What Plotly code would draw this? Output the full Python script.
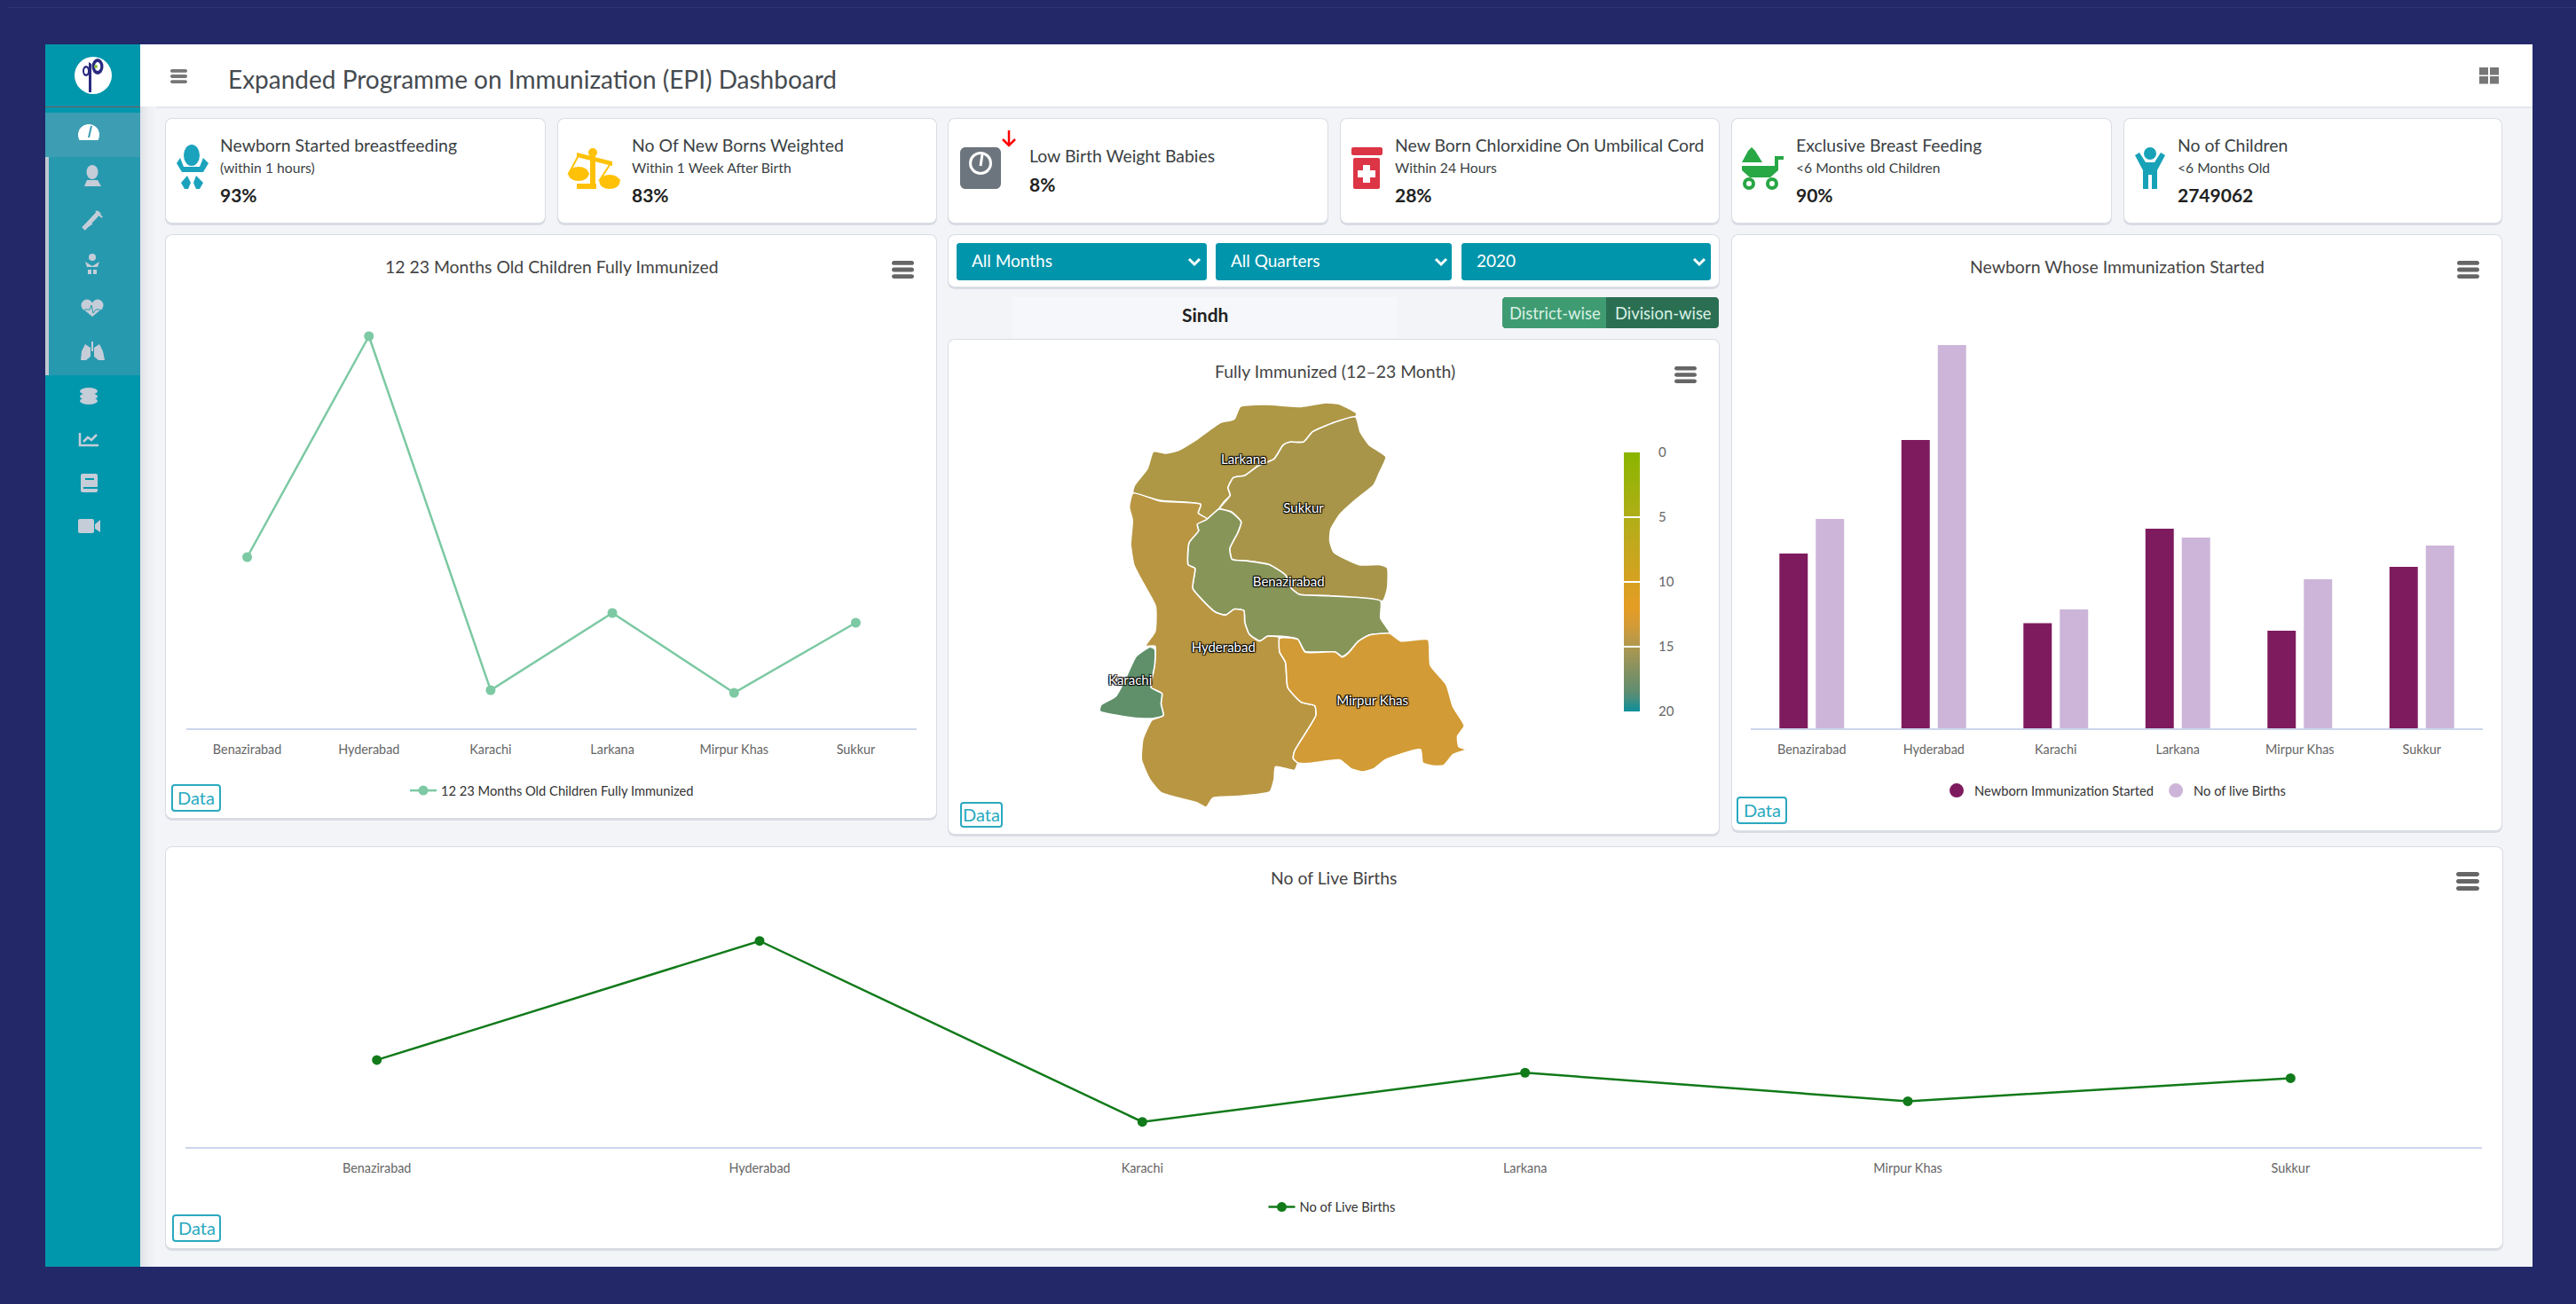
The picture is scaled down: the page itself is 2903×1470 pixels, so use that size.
import plotly.graph_objects as go

W, H = 2903, 1470
FONT = "Lato"
NAVY = "#222868"

districts = ["Benazirabad", "Hyderabad", "Karachi", "Larkana", "Mirpur Khas", "Sukkur"]
fully_immunized = [19.3, 44.2, 4.3, 13.0, 4.0, 11.9]
newborn_started = [98500, 162500, 59200, 112500, 55000, 91000]
live_births = [118000, 216000, 67000, 107500, 84000, 103000]

kpi_titles = ["Newborn Started breastfeeding", "No Of New Borns Weighted", "Low Birth Weight Babies",
              "New Born Chlorxidine On Umbilical Cord", "Exclusive Breast Feeding", "No of Children"]
kpi_subs = ["(within 1 hours)", "Within 1 Week After Birth", "", "Within 24 Hours", "<6 Months old Children", "<6 Months Old"]
kpi_values = ["93%", "83%", "8%", "28%", "90%", "2749062"]
filters = ["All Months", "All Quarters", "2020"]

# Map outlines, in map units
map_names = ["Larkana", "Sukkur", "Benazirabad", "Hyderabad", "Karachi", "Mirpur Khas"]
map_colors = ["#AE9745", "#A89549", "#889559", "#B99642", "#5F906A", "#D29B35"]
map_label_x = [513, 645, 612, 468, 262, 797]
map_label_y = [267, 432, 682, 905, 1014, 1085]
larkana = [(505,85),(560,78),(640,85),(695,72),(725,77),(762,108),(760,118),(710,140),(665,170),(645,205),(615,205),(600,215),(580,262),(545,285),(515,318),(490,325),(478,360),(483,385),(470,405),(458,430),(432,465),(412,445),(418,415),(330,403),(268,375),(272,350),(300,295),(313,237),(340,243),(365,235),(410,195),(460,140),(492,127),(505,85)]
sukkur = [(760,120),(770,170),(790,215),(827,255),(812,310),(800,350),(760,400),(725,450),(705,500),(703,540),(712,578),(768,620),(815,620),(830,630),(830,700),(820,742),(700,725),(635,720),(618,700),(605,655),(570,620),(520,607),(487,602),(482,565),(500,510),(507,475),(485,440),(460,430),(483,385),(478,360),(490,325),(515,318),(545,285),(580,262),(600,215),(615,205),(645,205),(665,170),(710,140),(760,120)]
benazirabad = [(458,432),(485,442),(507,475),(500,510),(482,565),(487,602),(520,607),(570,620),(605,655),(618,700),(635,720),(700,725),(815,742),(815,800),(835,850),(790,857),(765,880),(745,915),(730,930),(715,915),(648,913),(632,872),(598,862),(565,862),(548,878),(525,855),(515,815),(513,775),(492,770),(473,790),(450,780),(425,745),(400,700),(405,632),(390,620),(392,545),(413,505),(410,483),(432,465),(458,432)]
hyderabad = [(268,378),(330,405),(418,416),(412,445),(432,465),(410,483),(413,505),(392,545),(390,620),(405,632),(400,700),(425,745),(450,780),(473,790),(492,770),(513,775),(515,815),(525,855),(548,878),(565,862),(590,865),(592,915),(605,950),(610,1035),(640,1085),(670,1097),(672,1130),(625,1250),(622,1275),(632,1290),(625,1315),(583,1303),(580,1345),(570,1388),(500,1403),(445,1408),(430,1440),(410,1425),(330,1390),(305,1345),(287,1280),(290,1210),(310,1145),(335,1130),(330,1090),(332,1055),(308,1035),(316,960),(317,895),(296,895),(317,845),(318,760),(290,680),(270,620),(263,550),(267,470),(260,425),(268,378)]
karachi = [(305,898),(316,905),(316,960),(308,1035),(332,1055),(330,1090),(335,1130),(310,1140),(270,1138),(195,1115),(197,1095),(230,1065),(250,1010),(275,930),(305,898)]
mirpur_khas = [(592,868),(632,872),(648,915),(715,915),(730,932),(745,917),(765,880),(790,858),(835,852),(860,878),(920,873),(925,960),(960,1025),(975,1100),(1000,1165),(985,1200),(988,1235),(1005,1245),(975,1262),(955,1298),(930,1300),(908,1290),(903,1245),(825,1280),(800,1310),(775,1320),(750,1310),(725,1280),(655,1292),(632,1290),(622,1275),(625,1250),(672,1130),(670,1097),(640,1085),(610,1035),(605,950),(592,915),(592,868)]
map_shapes = [larkana, sukkur, benazirabad, hyderabad, karachi, mirpur_khas]

scale_stops = [[0, "#8AB500"], [0.25, "#B0AE17"], [0.4, "#C8A61E"], [0.6, "#E49C25"], [0.66, "#D69B35"],
               [0.75, "#AE9850"], [0.85, "#7F9063"], [0.93, "#5B8D72"], [1, "#0A8F9E"]]
scale_ticks = [0, 5, 10, 15, 20]
scale_steps = list(range(0, 81))


def px(x):
    return x / W


def py(y):
    return 1 - y / H


shapes, annotations = [], []


def rect(x0, y0, x1, y1, color, opacity=1):
    shapes.append(dict(type="rect", xref="paper", yref="paper", x0=px(x0), x1=px(x1), y0=py(y0), y1=py(y1),
                       fillcolor=color, line_width=0, opacity=opacity, layer="below"))


def circle(cx, cy, r, color, ry=None):
    ry = ry or r
    shapes.append(dict(type="circle", xref="paper", yref="paper", x0=px(cx - r), x1=px(cx + r), y0=py(cy - ry), y1=py(cy + ry),
                       fillcolor=color, line_width=0, layer="below"))


def path(points, color, close=True, width=0):
    d = "M " + " L ".join(f"{px(a):.6f},{py(b):.6f}" for a, b in points) + (" Z" if close else "")
    shapes.append(dict(type="path", xref="paper", yref="paper", path=d, layer="below",
                       fillcolor=color if close else "rgba(0,0,0,0)",
                       line=dict(color=color, width=width)))


def round_rect(x0, y0, x1, y1, r, fill, line=None, lw=0):
    k = 0.55 * r
    f = lambda a, b: f"{px(a):.6f},{py(b):.6f}"
    d = (f"M {f(x0+r,y0)} L {f(x1-r,y0)} C {f(x1-r+k,y0)} {f(x1,y0+r-k)} {f(x1,y0+r)} L {f(x1,y1-r)} "
         f"C {f(x1,y1-r+k)} {f(x1-r+k,y1)} {f(x1-r,y1)} L {f(x0+r,y1)} C {f(x0+r-k,y1)} {f(x0,y1-r+k)} {f(x0,y1-r)} "
         f"L {f(x0,y0+r)} C {f(x0,y0+r-k)} {f(x0+r-k,y0)} {f(x0+r,y0)} Z")
    shapes.append(dict(type="path", xref="paper", yref="paper", path=d, fillcolor=fill, layer="below",
                       line=dict(color=line or fill, width=lw)))


def text(x, y, s, size, color="#333", anchor="left", bold=False):
    annotations.append(dict(x=px(x), y=py(y - 1), xref="paper", yref="paper", text=f"<b>{s}</b>" if bold else s,
                            showarrow=False, xanchor=anchor, yanchor="middle", xshift=-3 if anchor == "left" else 0,
                            font=dict(family=FONT, size=size, color=color)))


def card(x0, y0, x1, y1):
    round_rect(x0 - 1, y0 - 1, x1 + 1, y1 + 3, 8, "#D9DCE3")
    round_rect(x0, y0, x1, y1, 7, "#FFFFFF")


def burger(x0, y0, x1, y1, color="#666666"):
    h = (y1 - y0) / 4.2
    for i in range(3):
        top = y0 + i * (y1 - y0 - h) / 2
        round_rect(x0, top, x1, top + h, h / 2, color)


def data_btn(x0, y0, x1, y1):
    round_rect(x0, y0, x1, y1, 3, "#FFFFFF", "#2AA9BF", 2)
    text((x0 + x1) / 2, (y0 + y1) / 2, "Data", 20, "#2AA9BF", "center")


# Page frame
rect(0, 0, W, H, NAVY)
rect(8, 8, W, 9, "#2E3372")
rect(51, 50, 2854, 1428, "#F3F4F8")
rect(158, 50, 2854, 120, "#FFFFFF")
rect(158, 120, 2854, 122, "#E3E6EC")
for i, c in enumerate(["#E2E4E9", "#E6E8EC", "#EAECF0", "#EDEFF3", "#F0F1F5", "#F2F3F7"]):
    rect(158 + i * 3, 120, 161 + i * 3, 1428, c)
rect(51, 50, 158, 1428, "#0096AC")
rect(51, 120, 158, 121, "#7A5A55")
rect(51, 127, 158, 177, "#3D9DB3")
rect(51, 177, 158, 423, "#2799AF")
rect(51, 177, 55, 423, "#C0C8D2")

# Logo
circle(105, 85, 21, "#FFFFFF")
path([(100, 70), (100, 104), (103, 104), (103, 72)], "#2A2A80")
circle(110, 75, 6.5, "#2A2A80", 9)
circle(110, 75, 3.2, "#FFFFFF", 5)
circle(97, 80, 4, "#2A2A80", 6)
circle(97, 80, 2, "#FFFFFF", 3.5)
circle(108, 75, 2, "#8CC63F")

# Sidebar icons
ic = "#C5CDD8"
circle(100, 152, 12, "#FFFFFF", 12)
rect(86, 158, 114, 166, "#3D9DB3")
path([(100, 155), (103, 142)], "#3D9DB3", close=False, width=2)
circle(104, 194, 6.5, ic, 8)
path([(95, 210), (98, 203), (110, 203), (114, 210)], ic)
path([(94, 258), (112, 239)], ic, close=False, width=5)
path([(95, 258), (104, 252)], ic, close=False, width=1.5)
path([(108, 238), (115, 245)], ic, close=False, width=2)
circle(104, 290, 4, ic)
path([(96, 295), (104, 300), (112, 295), (110, 301), (98, 301)], ic)
path([(99, 304), (103, 304), (103, 309), (99, 309)], ic)
path([(105, 304), (109, 304), (109, 309), (105, 309)], ic)
circle(98, 344, 6.5, ic)
circle(110, 344, 6.5, ic)
path([(92, 347), (116, 347), (104, 357)], ic)
path([(95, 349), (101, 349), (103, 344), (105, 353), (108, 349), (113, 349)], "#2799AF", close=False, width=1)
path([(102, 392), (96, 388), (92, 396), (91, 406), (97, 406), (102, 402)], ic)
path([(106, 392), (112, 388), (116, 396), (118, 406), (111, 406), (106, 402)], ic)
path([(104, 385), (104, 396)], ic, close=False, width=2)
circle(100, 441, 10, ic, 4)
circle(100, 447, 10, ic, 4)
circle(100, 452, 10, ic, 4)
path([(90, 488), (90, 502), (111, 502)], ic, close=False, width=2.5)
path([(94, 498), (99, 493), (103, 496), (109, 490)], ic, close=False, width=2.5)
round_rect(91, 534, 110, 555, 2, ic)
rect(96, 539, 106, 541, "#0096AC")
rect(94, 549, 110, 551, "#0096AC")
round_rect(88, 585, 106, 601, 2, ic)
path([(107, 591), (113, 586), (113, 600), (107, 596)], ic)

# Header
burger(192, 78, 211, 94, "#777777")
text(258, 90, "Expanded Programme on Immunization (EPI) Dashboard", 28, "#454B50")
for gx, gy in [(2794, 76), (2806, 76), (2794, 86), (2806, 86)]:
    rect(gx, gy, gx + 10, gy + 8.5, "#777777")

# KPI cards
kpi_boxes = [(187, 614), (629, 1055), (1069, 1496), (1511, 1937), (1952, 2379), (2394, 2819)]
kpi_text_x = [249, 713, 1161, 1573, 2025, 2455]
for (a, b), tx, t, s, v in zip(kpi_boxes, kpi_text_x, kpi_titles, kpi_subs, kpi_values):
    card(a, 134, b, 251)
    if s:
        text(tx, 164, t, 19.4, "#3A3F44")
        text(tx, 190, s, 15.7, "#3A3F44")
        text(tx, 221, v, 21, "#222222", bold=True)
    else:
        text(tx, 177, t, 19.4, "#3A3F44")
        text(tx, 208, v, 21, "#222222", bold=True)

# KPI icons
teal = "#1BA3BD"
circle(216, 175, 9, teal, 12)
path([(199, 184), (203, 178), (207, 188), (225, 188), (229, 178), (235, 184), (229, 194), (205, 194)], teal)
path([(211, 198), (215, 206), (212, 213), (208, 213), (204, 206)], teal)
path([(221, 198), (229, 206), (225, 213), (221, 213), (218, 206)], teal)
yel = "#FFC107"
path([(650, 172), (690, 182), (690, 187), (650, 177)], yel)
circle(668, 172, 5, yel)
rect(665, 176, 671, 213, yel)
rect(650, 207, 672, 213, yel)
path([(652, 175), (641, 196), (664, 196)], yel, close=False, width=2)
path([(687, 186), (676, 203), (699, 203)], yel, close=False, width=2)
circle(652, 196, 11.5, yel, 8)
circle(687, 205, 11.5, yel, 8)
round_rect(1082, 166, 1128, 213, 6, "#6C757D")
circle(1105, 184, 13, "#FFFFFF")
circle(1105, 184, 10, "#6C757D")
path([(1105, 187), (1107, 174)], "#FFFFFF", close=False, width=3)
path([(1137, 147), (1137, 163)], "#FF0000", close=False, width=2.5)
path([(1130, 157), (1137, 164), (1144, 157)], "#FF0000", close=False, width=2.5)
med = "#DC3545"
round_rect(1523, 166, 1558, 175, 2, med)
round_rect(1525, 178, 1555, 213, 2, med)
rect(1530, 192, 1550, 200, "#FFFFFF")
rect(1536, 186, 1544, 206, "#FFFFFF")
gr = "#28A745"
path([(1974, 166), (1978, 170), (1986, 183), (1963, 183), (1970, 170)], gr)
path([(1963, 187), (2000, 187), (2000, 176), (2010, 176), (2010, 180), (2004, 180), (2004, 192), (1995, 200), (1972, 200), (1963, 192)], gr)
circle(1971, 207, 7, gr)
circle(1971, 207, 3, "#FFFFFF")
circle(1997, 207, 7, gr)
circle(1997, 207, 3, "#FFFFFF")
ch = "#17A2B8"
circle(2423, 173, 7, ch)
path([(2406, 175), (2411, 172), (2418, 183), (2428, 183), (2435, 172), (2440, 175), (2431, 192), (2431, 213), (2425, 213), (2425, 197), (2421, 197), (2421, 213), (2415, 213), (2415, 192)], ch)

# Panels
card(187, 265, 1055, 922)
card(1069, 265, 1937, 323)
card(1069, 383, 1937, 940)
card(1952, 265, 2819, 936)
card(187, 955, 2820, 1407)
rect(1141, 335, 1575, 381, "#F6F7FA")

# Filters
for (a, b), s, chev in zip([(1078, 1360), (1370, 1636), (1647, 1928)], filters, [1346, 1624, 1915]):
    round_rect(a, 274, b, 316, 3, "#0095AB")
    text(a + 18, 295, s, 19, "#FFFFFF")
    path([(chev - 6, 292), (chev, 298), (chev + 6, 292)], "#FFFFFF", close=False, width=3)

text(1358, 356, "Sindh", 21, "#222222", "center", True)
round_rect(1693, 335, 1937, 370, 4, "#2B6F53")
round_rect(1693, 335, 1810, 370, 4, "#3F9B72")
rect(1800, 335, 1810, 370, "#3F9B72")
text(1752, 354, "District-wise", 18.4, "#D8F0E4", "center")
text(1874, 354, "Division-wise", 18.4, "#D8F0E4", "center")

# Chart chrome
text(622, 302, "12 23 Months Old Children Fully Immunized", 19.4, "#444444", "center")
text(1504, 419, "Fully Immunized (12–23 Month)", 19.4, "#444444", "center")
text(2386, 302, "Newborn Whose Immunization Started", 19.4, "#444444", "center")
text(1503, 990, "No of Live Births", 19.4, "#444444", "center")
burger(1005, 294, 1030, 314)
burger(1887, 413, 1912, 432)
burger(2769, 294, 2794, 314)
burger(2768, 983, 2794, 1004)
data_btn(194, 885, 248, 914)
data_btn(1083, 905, 1129, 932)
data_btn(1958, 899, 2013, 928)
data_btn(195, 1370, 248, 1399)

fig = go.Figure()
tick_font = dict(family=FONT, size=14.4, color="#666666")
legend_font = dict(family=FONT, size=14.7, color="#333333")

fig.add_trace(go.Scatter(x=districts, y=fully_immunized, mode="lines+markers", name="12 23 Months Old Children Fully Immunized",
                         line=dict(color="#7CC9A3", width=2.5), marker=dict(size=11, color="#7CC9A3"),
                         xaxis="x", yaxis="y", legend="legend"))

fig.add_trace(go.Bar(x=districts, y=newborn_started, name="Newborn Immunization Started", marker=dict(color="#7E1B5E", line_width=0),
                     xaxis="x2", yaxis="y2", showlegend=False))
fig.add_trace(go.Bar(x=districts, y=live_births, name="No of live Births", marker=dict(color="#CDB5D9", line_width=0),
                     xaxis="x2", yaxis="y2", showlegend=False))
fig.add_trace(go.Scatter(x=[None], y=[None], mode="markers", name="Newborn Immunization Started", marker=dict(size=17, color="#7E1B5E"),
                         xaxis="x2", yaxis="y2", legend="legend2"))
fig.add_trace(go.Scatter(x=[None], y=[None], mode="markers", name="No of live Births", marker=dict(size=17, color="#CDB5D9"),
                         xaxis="x2", yaxis="y2", legend="legend2"))

fig.add_trace(go.Scatter(x=districts, y=live_births, mode="lines+markers", name="No of Live Births",
                         line=dict(color="#117A1A", width=2.5), marker=dict(size=11, color="#117A1A"),
                         xaxis="x3", yaxis="y3", legend="legend3"))

for name, pts, col in zip(map_names, map_shapes, map_colors):
    fig.add_trace(go.Scatter(x=[p[0] for p in pts], y=[p[1] for p in pts], mode="lines", fill="toself", fillcolor=col,
                             line=dict(color="#FFFFFF", width=1.6, shape="spline", smoothing=0.5), name=name, showlegend=False,
                             xaxis="x4", yaxis="y4", hoverinfo="name"))
fig.add_trace(go.Scatter(x=map_label_x, y=map_label_y, mode="text", text=map_names, showlegend=False, xaxis="x4", yaxis="y4",
                         textposition="middle center", hoverinfo="skip",
                         textfont=dict(family=FONT, size=15, color="#FFFFFF",
                                       shadow="1px 1px 1px #000, -1px -1px 1px #000, 1px -1px 1px #000, -1px 1px 1px #000")))

fig.add_trace(go.Heatmap(x=[0], y=[s / 4 for s in scale_steps], z=[[s / 4] for s in scale_steps], zmin=0, zmax=20,
                         colorscale=scale_stops, showscale=False, xaxis="x5", yaxis="y5", hoverinfo="skip"))


def domx(a, b):
    return [px(a), px(b)]


def domy(top, bottom):
    return [py(bottom), py(top)]


def cat_axis(a, b, anchor):
    return dict(domain=domx(a, b), type="category", categoryorder="array", categoryarray=districts, range=[-0.5, 5.5],
                anchor=anchor, showgrid=False, zeroline=False, showline=True, linecolor="#CCD6EB", linewidth=2, automargin=False,
                ticks="", ticklabelstandoff=10, tickfont=tick_font, fixedrange=True)


def val_axis(top, bottom, rng, anchor):
    return dict(domain=domy(top, bottom), range=rng, anchor=anchor, visible=False, fixedrange=True, automargin=False)


def hidden_axis(a, b, rng, anchor):
    return dict(domain=domx(a, b), range=rng, anchor=anchor, visible=False, fixedrange=True, automargin=False)


def legend_at(x, y):
    return dict(x=px(x), y=py(y), xanchor="center", yanchor="middle", orientation="h",
                font=legend_font, bgcolor="rgba(0,0,0,0)", itemclick=False, itemdoubleclick=False)


fig.update_layout(
    width=W, height=H, margin=dict(l=0, r=0, t=0, b=0, pad=0), autosize=False,
    paper_bgcolor=NAVY, plot_bgcolor="rgba(0,0,0,0)", font=dict(family=FONT),
    shapes=shapes, annotations=annotations, barmode="group", bargap=0.404, bargroupgap=0.22,
    xaxis=cat_axis(210, 1033, "y"), yaxis=val_axis(321, 821, [0, 50], "x"),
    xaxis2=cat_axis(1973, 2798, "y2"), yaxis2=val_axis(340, 821, [0, 240500], "x2"),
    xaxis3=cat_axis(209, 2797, "y3"), yaxis3=val_axis(1000, 1292.7, [46548, 260354], "x3"),
    xaxis4=hidden_axis(1140, 1940, [0, 1568], "y4"), yaxis4=val_axis(430, 950, [1560, 0], "x4"),
    xaxis5=hidden_axis(1830, 1848, [-0.5, 0.5], "y5"),
    yaxis5=dict(domain=domy(510, 802), range=[20, 0], anchor="x5", side="right", tickvals=scale_ticks, automargin=False,
                showgrid=False, zeroline=False, ticks="inside", ticklen=18, tickwidth=1.5, tickcolor="#FFFFFF",
                tickfont=dict(family=FONT, size=15, color="#666666"), ticklabelstandoff=20, layer="above traces", fixedrange=True),
    legend=legend_at(622, 891.5), legend2=legend_at(2383, 891.5), legend3=legend_at(1501, 1361),
)

fig.write_html("out.html", post_script="document.body.style.margin='0';document.body.style.background='#222868';document.body.style.overflow='hidden';",
               config=dict(displayModeBar=False))
